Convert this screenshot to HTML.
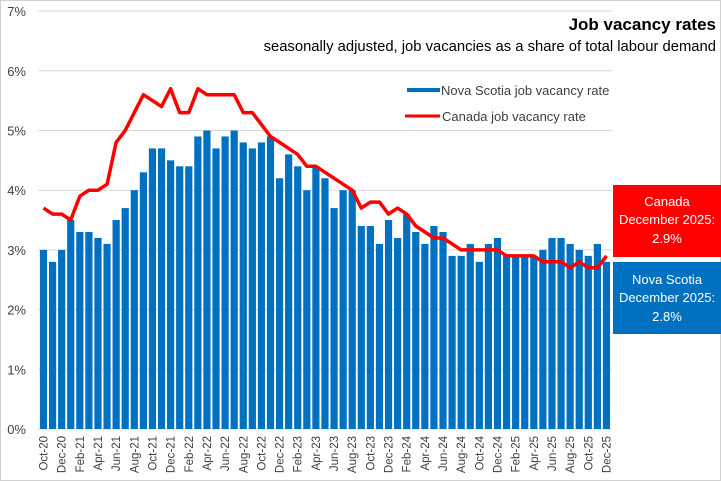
<!DOCTYPE html>
<html><head><meta charset="utf-8"><style>
html,body{margin:0;padding:0;background:#fff;}
svg{display:block;font-family:"Liberation Sans",sans-serif;}
</style></head><body>
<svg width="721" height="481" viewBox="0 0 721 481" xmlns="http://www.w3.org/2000/svg">
<rect x="0.5" y="0.5" width="720" height="480" fill="#fff" stroke="#d0d0d0"/>
<g id="grid" stroke="#d9d9d9" stroke-width="1"></g>
<g id="ylab" font-size="13" fill="#404040" text-anchor="end"></g>
<g id="bars" fill="#0070c0"></g>
<polyline id="line" fill="none" stroke="#ff0000" stroke-width="3.5" stroke-linejoin="round"/>
<g id="xlab" font-size="11.5" fill="#404040"></g>
<text x="716" y="30" font-size="17" font-weight="bold" text-anchor="end" fill="#000">Job vacancy rates</text>
<text x="716" y="51" font-size="14.8" text-anchor="end" fill="#000">seasonally adjusted, job vacancies as a share of total labour demand</text>
<rect x="407" y="88" width="33" height="4" fill="#0070c0"/>
<text x="441" y="95" font-size="13" fill="#404040">Nova Scotia job vacancy rate</text>
<line x1="405" y1="116" x2="440" y2="116" stroke="#ff0000" stroke-width="3"/>
<text x="442" y="121" font-size="13" fill="#404040">Canada job vacancy rate</text>
<rect x="613" y="185" width="108" height="72" fill="#ff0000"/>
<text x="667" y="206" font-size="13" fill="#fff" text-anchor="middle">Canada</text>
<text x="667" y="224" font-size="13" fill="#fff" text-anchor="middle">December 2025:</text>
<text x="667" y="243" font-size="13" fill="#fff" text-anchor="middle">2.9%</text>
<rect x="613" y="262" width="108" height="72" fill="#0070c0"/>
<text x="667" y="284" font-size="13" fill="#fff" text-anchor="middle">Nova Scotia</text>
<text x="667" y="302" font-size="13" fill="#fff" text-anchor="middle">December 2025:</text>
<text x="667" y="321" font-size="13" fill="#fff" text-anchor="middle">2.8%</text>
</svg>
<script>
const ns=[3.0,2.8,3.0,3.5,3.3,3.3,3.2,3.1,3.5,3.7,4.0,4.3,4.7,4.7,4.5,4.4,4.4,4.9,5.0,4.7,4.9,5.0,4.8,4.7,4.8,4.9,4.2,4.6,4.4,4.0,4.4,4.2,3.7,4.0,4.0,3.4,3.4,3.1,3.5,3.2,3.6,3.3,3.1,3.4,3.3,2.9,2.9,3.1,2.8,3.1,3.2,2.9,2.9,2.9,2.9,3.0,3.2,3.2,3.1,3.0,2.9,3.1,2.8];
const ca=[3.7,3.6,3.6,3.5,3.9,4.0,4.0,4.1,4.8,5.0,5.3,5.6,5.5,5.4,5.7,5.3,5.3,5.7,5.6,5.6,5.6,5.6,5.3,5.3,5.1,4.9,4.8,4.7,4.6,4.4,4.4,4.3,4.2,4.1,4.0,3.7,3.8,3.8,3.6,3.7,3.6,3.4,3.3,3.2,3.2,3.1,3.0,3.0,3.0,3.0,3.0,2.9,2.9,2.9,2.9,2.8,2.8,2.8,2.7,2.8,2.7,2.7,2.9];
const NS="http://www.w3.org/2000/svg";
const y0=429,pp=59.7,x0=43.5,dx=9.08;
const Y=v=>y0-v*pp;
function el(t,a,p,txt){const e=document.createElementNS(NS,t);for(const k in a)e.setAttribute(k,a[k]);if(txt)e.textContent=txt;document.getElementById(p).appendChild(e);}
for(let i=0;i<=7;i++){const y=Y(i);el('line',{x1:38,x2:612,y1:y,y2:y},'grid');el('text',{x:26,y:y+5},'ylab',i+'%');}
ns.forEach((v,i)=>el('rect',{x:x0+i*dx-3.6,y:Y(v),width:7.2,height:v*pp},'bars'));
document.getElementById('line').setAttribute('points',ca.map((v,i)=>(x0+i*dx).toFixed(1)+','+Y(v).toFixed(1)).join(' '));
const m=['Jan','Feb','Mar','Apr','May','Jun','Jul','Aug','Sep','Oct','Nov','Dec'];
for(let i=0;i<63;i+=2){const mi=(9+i)%12,yr=20+Math.floor((9+i)/12);const x=x0+i*dx+4;
el('text',{x:0,y:0,transform:`translate(${x},436) rotate(-90)`,'text-anchor':'end'},'xlab',m[mi]+'-'+yr);}
</script>
</body></html>
